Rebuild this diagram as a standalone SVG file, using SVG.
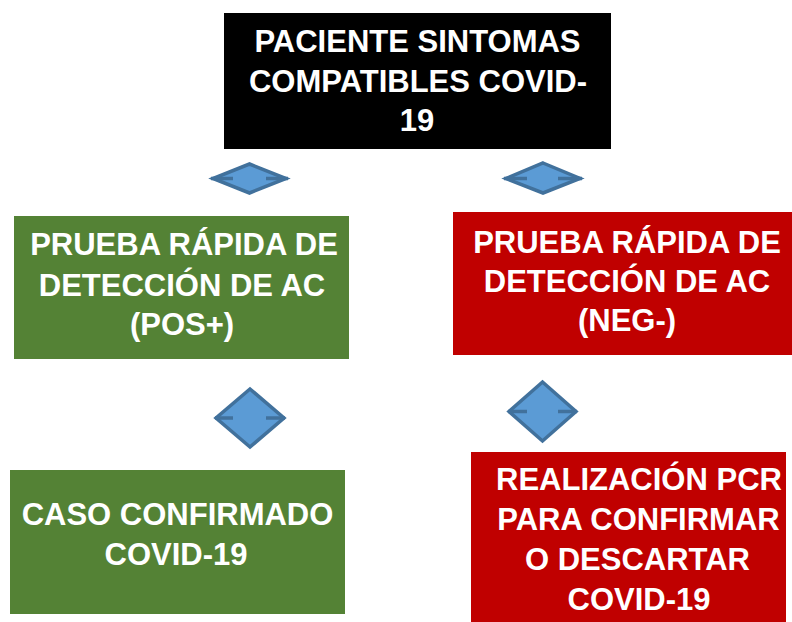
<svg xmlns="http://www.w3.org/2000/svg" width="792" height="622" viewBox="0 0 792 622">
<style>
.t{font-family:"Liberation Sans",Arial,sans-serif;font-weight:bold;font-size:31px;fill:#ffffff;text-anchor:middle}
.d{fill:#5B9BD5;stroke:#41719C;stroke-width:3.5;stroke-linejoin:miter}
.s{stroke:#41719C;stroke-width:3.5;fill:none}
</style>
<rect width="792" height="622" fill="#ffffff"/>
<g id="inicio">
<rect x="224" y="13" width="387" height="136" fill="#000000"/>
<text class="t" x="417.5" y="52">PACIENTE SINTOMAS</text>
<text class="t" x="418" y="92">COMPATIBLES COVID-</text>
<text class="t" x="417" y="131">19</text>
</g>
<g id="decision1"><polygon class="d" points="249.5,164 286,178.5 249.5,193 213,178.5"/></g>
<g id="decision2"><polygon class="d" points="543,163 580,178.5 543,193 506,178.5"/></g>
<g id="positivo">
<rect x="14" y="216" width="335" height="143" fill="#548235"/>
<text class="t" x="184" y="255">PRUEBA RÁPIDA DE</text>
<text class="t" x="182" y="296">DETECCIÓN DE AC</text>
<text class="t" x="182" y="335">(POS+)</text>
</g>
<g id="negativo">
<rect x="453" y="212" width="339" height="143" fill="#C00000"/>
<text class="t" x="627" y="253">PRUEBA RÁPIDA DE</text>
<text class="t" x="627" y="292">DETECCIÓN DE AC</text>
<text class="t" x="627" y="331">(NEG-)</text>
</g>
<g id="decision3"><polygon class="d" points="250,389 284,418 250,447 216,418"/></g>
<g id="decision4"><polygon class="d" points="542.5,382 576,411.5 542.5,441 509,411.5"/></g>
<g id="confirmado">
<rect x="10" y="470" width="335" height="144" fill="#548235"/>
<text class="t" x="177.5" y="525">CASO CONFIRMADO</text>
<text class="t" x="176" y="565">COVID-19</text>
</g>
<g id="pcr">
<rect x="471" y="452" width="315" height="170" fill="#C00000"/>
<text class="t" x="639" y="490">REALIZACIÓN PCR</text>
<text class="t" x="638.5" y="530">PARA CONFIRMAR</text>
<text class="t" x="637.5" y="570">O DESCARTAR</text>
<text class="t" x="639" y="610">COVID-19</text>
</g>
<g id="connectors">
<line class="s" x1="211" y1="178.5" x2="233" y2="178.5"/>
<line class="s" x1="266" y1="178.5" x2="288" y2="178.5"/>
<line class="s" x1="504" y1="178.5" x2="527" y2="178.5"/>
<line class="s" x1="558" y1="178.5" x2="582" y2="178.5"/>
<line class="s" x1="215" y1="418" x2="233" y2="418"/>
<line class="s" x1="266" y1="418" x2="285" y2="418"/>
<line class="s" x1="508" y1="411.5" x2="527" y2="411.5"/>
<line class="s" x1="558" y1="411.5" x2="577" y2="411.5"/>
</g>
</svg>
